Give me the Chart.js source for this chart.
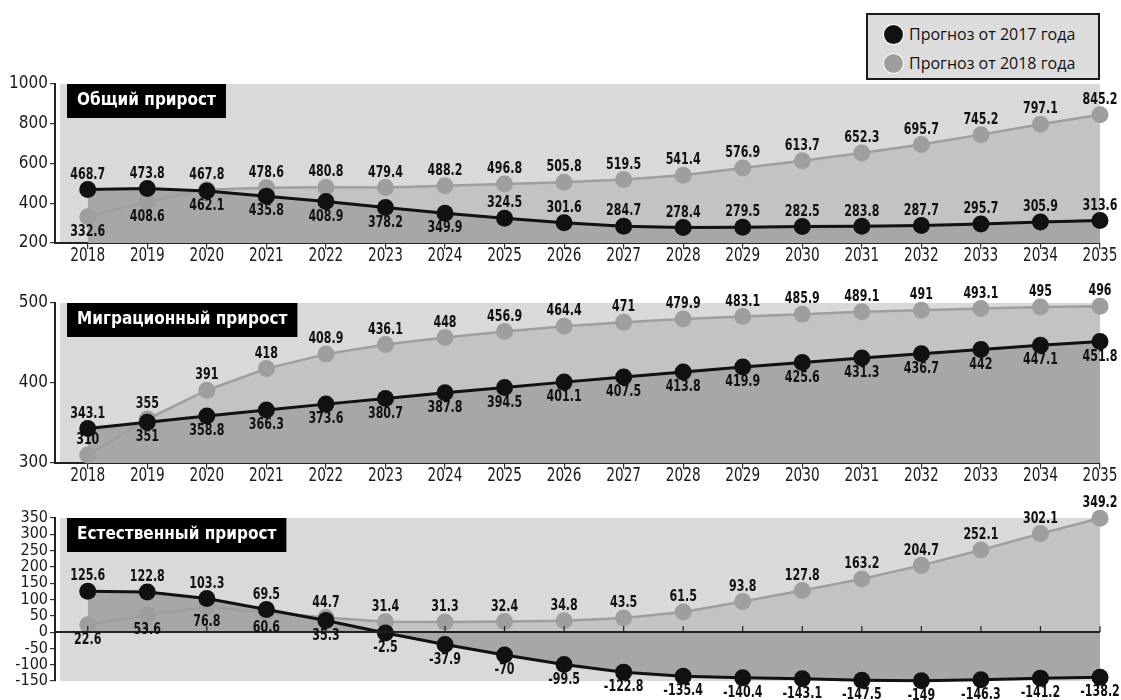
<!DOCTYPE html>
<html>
<head>
<meta charset="utf-8">
<script src="https://cdn.jsdelivr.net/npm/chart.js@4.4.1/dist/chart.umd.min.js"></script>
<style>
  body { margin: 0; background: #fff; width: 1121px; height: 700px; position: relative; overflow: hidden; }
  canvas { position: absolute; left: 0; }
  #legend { position: absolute; left: 866px; top: 13px; width: 230px; height: 63px; border: 2px solid #1a1a1a;
            background: #dcdcdc; font-family: 'Open Sans', sans-serif; font-size: 16px; color: #111; }
  .item { position: absolute; left: 16px; display: flex; align-items: center; height: 22px; }
  .dot { width: 19px; height: 19px; border-radius: 50%; box-shadow: 0 0 0 1px #fff; margin-right: 6px; }
</style>
</head>
<body>
<div id="legend"></div>
<canvas id="c1" style="top:70px" width="1121" height="200"></canvas>
<canvas id="c2" style="top:270px" width="1121" height="220"></canvas>
<canvas id="c3" style="top:485px" width="1121" height="215"></canvas>
<script>
// years on the x axis
const years = [2018, 2019, 2020, 2021, 2022, 2023, 2024, 2025, 2026, 2027, 2028, 2029, 2030, 2031, 2032, 2033, 2034, 2035];
const seriesNames = ['Прогноз от 2017 года', 'Прогноз от 2018 года'];
const panelTitles = ['Общий прирост', 'Миграционный прирост', 'Естественный прирост'];

// Общий прирост
const total2017 = [468.7, 473.8, 462.1, 435.8, 408.9, 378.2, 349.9, 324.5, 301.6, 284.7, 278.4, 279.5, 282.5, 283.8, 287.7, 295.7, 305.9, 313.6];
const total2018 = [332.6, 408.6, 467.8, 478.6, 480.8, 479.4, 488.2, 496.8, 505.8, 519.5, 541.4, 576.9, 613.7, 652.3, 695.7, 745.2, 797.1, 845.2];

// Миграционный прирост (points of the 2018 forecast are plotted where the picture shows them,
// its printed labels are kept as they are printed)
const migr2017 = [343.1, 351, 358.8, 366.3, 373.6, 380.7, 387.8, 394.5, 401.1, 407.5, 413.8, 419.9, 425.6, 431.3, 436.7, 442, 447.1, 451.8];
const migr2018 = [310, 355, 391, 418, 436.1, 448, 456.9, 464.4, 471, 476, 479.9, 483.1, 485.9, 489.1, 491, 493.1, 495, 496];
const migr2018Labels = ['310', '355', '391', '418', '408.9', '436.1', '448', '456.9', '464.4', '471', '479.9', '483.1', '485.9', '489.1', '491', '493.1', '495', '496'];

// Естественный прирост
const natural2017 = [125.6, 122.8, 103.3, 69.5, 35.3, -2.5, -37.9, -70, -99.5, -122.8, -135.4, -140.4, -143.1, -147.5, -149, -146.3, -141.2, -138.2];
const natural2018 = [22.6, 53.6, 76.8, 60.6, 44.7, 31.4, 31.3, 32.4, 34.8, 43.5, 61.5, 93.8, 127.8, 163.2, 204.7, 252.1, 302.1, 349.2];

const NARROW = "'DejaVu Sans Condensed', sans-serif";
const BLACK = '#111111';
const GREY = '#9e9e9e';

// legend
const legend = document.getElementById('legend');
[BLACK, GREY].forEach((c, i) => {
  const it = document.createElement('div');
  it.className = 'item';
  it.style.top = (8 + i * 29) + 'px';
  it.innerHTML = '<span class="dot" style="background:' + c + '"></span>' + seriesNames[i];
  legend.appendChild(it);
});

// text squeezed sideways, the picture uses a condensed face
function narrowText(ctx, txt, x, y, sx) {
  ctx.save();
  ctx.translate(x, y);
  ctx.scale(sx, 1);
  ctx.fillText(txt, 0, 0);
  ctx.restore();
}

// background, title box, zero line, year labels and value labels
const panelPlugin = {
  id: 'panel',
  beforeDraw(chart, args, opts) {
    const { ctx, chartArea: a } = chart;
    ctx.save();
    ctx.fillStyle = '#d9d9d9';
    ctx.fillRect(a.left + 5, a.top, a.right - a.left - 5, a.bottom - a.top);
    ctx.restore();
  },
  afterDatasetsDraw(chart, args, opts) {
    const { ctx, chartArea: a } = chart;
    const xs = chart.scales.x;
    ctx.save();
    if (opts.zeroLine) {
      const y0 = chart.scales.y.getPixelForValue(0);
      ctx.strokeStyle = '#222';
      ctx.lineWidth = 2;
      ctx.beginPath();
      ctx.moveTo(a.left, y0);
      ctx.lineTo(a.right, y0);
      ctx.stroke();
      ctx.lineWidth = 1.2;
      years.forEach(v => {
        const x = xs.getPixelForValue(v);
        ctx.beginPath();
        ctx.moveTo(x, y0);
        ctx.lineTo(x, y0 - 6);
        ctx.stroke();
      });
    }
    // title box
    ctx.font = "bold 17px " + NARROW;
    const w = ctx.measureText(opts.title).width + 20;
    ctx.fillStyle = '#000';
    ctx.fillRect(a.left + 12, a.top, w, 34);
    ctx.fillStyle = '#fff';
    ctx.textBaseline = 'middle';
    ctx.textAlign = 'left';
    ctx.fillText(opts.title, a.left + 22, a.top + 17);

    ctx.textAlign = 'center';
    ctx.fillStyle = '#1a1a1a';
    // year labels under the axis
    if (opts.showX) {
      ctx.font = '20px ' + NARROW;
      years.forEach(v => narrowText(ctx, String(v), xs.getPixelForValue(v), a.bottom + 13, 0.76));
    }

    // value labels: upper series above, lower series below unless it sits on the x axis
    ctx.font = 'bold 16px ' + NARROW;
    ctx.fillStyle = '#111';
    chart.data.datasets.forEach((ds, i) => {
      const meta = chart.getDatasetMeta(i);
      const other = chart.getDatasetMeta(1 - i);
      meta.data.forEach((pt, k) => {
        const yo = other.data[k].y;
        let up;
        if (pt.y < yo) up = true;
        else up = opts.showX && (pt.y > a.bottom - 20 || (pt.y - yo > 30 && pt.y > a.bottom - 30));
        const txt = ds.valueLabels ? ds.valueLabels[k] : String(ds.data[k].y);
        narrowText(ctx, txt, pt.x, up ? pt.y - 15 : pt.y + 15, 0.77);
      });
    });
    ctx.restore();
  }
};

function series(name, vals, color, width, fillColor, fillMode, labels) {
  return {
    label: name,
    data: years.map((x, i) => ({ x: x, y: vals[i] })),
    valueLabels: labels,
    borderColor: color,
    borderWidth: width,
    pointRadius: 8.5,
    pointBackgroundColor: color,
    pointBorderWidth: 0,
    backgroundColor: fillColor,
    fill: fillMode,
    clip: false
  };
}

function makeChart(id, vals17, vals18, opt) {
  const fillMode = opt.zeroLine ? 'origin' : 'start';
  new Chart(document.getElementById(id), {
    type: 'line',
    data: {
      datasets: [
        series(seriesNames[0], vals17, BLACK, 3, '#a7a7a7', fillMode),
        series(seriesNames[1], vals18, GREY, 2.5, '#c3c3c3', fillMode, opt.labels18)
      ]
    },
    options: {
      responsive: false,
      animation: false,
      events: [],
      layout: { padding: { top: opt.padTop, right: 21, left: 0, bottom: opt.showX ? 0 : 19 } },
      scales: {
        x: {
          type: 'linear', min: 2017.45, max: 2035, display: opt.showX, z: 1,
          afterBuildTicks: s => { s.ticks = years.map(v => ({ value: v })); },
          afterFit: s => { if (opt.showX) s.height = 27; },
          ticks: { display: false },
          grid: { drawOnChartArea: false, tickLength: 6, color: '#333', lineWidth: 1.2 },
          border: { color: '#222', width: 2 }
        },
        y: {
          min: opt.min, max: opt.max,
          afterFit: s => { s.width = 55; },
          ticks: { stepSize: opt.step, autoSkip: false, padding: 2, color: '#1a1a1a', callback: v => String(v),
                   font: { family: NARROW, size: opt.tickSize } },
          grid: { drawOnChartArea: false, tickLength: 5, color: '#333', lineWidth: 1.2 },
          border: { color: '#222', width: 2 }
        }
      },
      plugins: {
        legend: { display: false },
        tooltip: { enabled: false },
        filler: { propagate: false, drawTime: 'beforeDatasetsDraw' },
        panel: { title: opt.title, zeroLine: opt.zeroLine, showX: opt.showX }
      }
    },
    plugins: [panelPlugin]
  });
}

makeChart('c1', total2017, total2018, { title: panelTitles[0], min: 200, max: 1000, step: 200, tickSize: 17, showX: true, padTop: 14 });
makeChart('c2', migr2017, migr2018, { title: panelTitles[1], min: 300, max: 500, step: 100, tickSize: 17, showX: true, padTop: 33, labels18: migr2018Labels });
makeChart('c3', natural2017, natural2018, { title: panelTitles[2], min: -150, max: 350, step: 50, tickSize: 16, showX: false, padTop: 33, zeroLine: true });
</script>
</body>
</html>
